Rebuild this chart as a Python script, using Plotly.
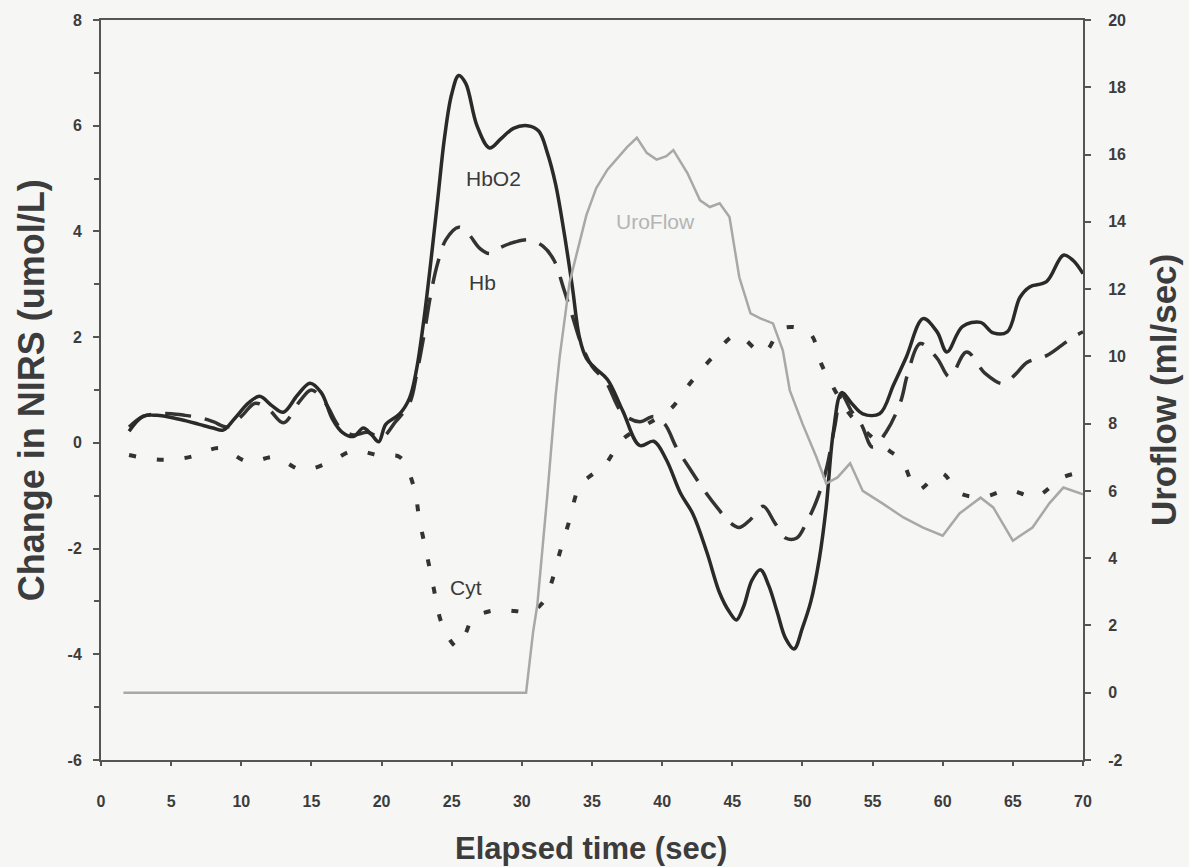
import plotly.graph_objects as go

# Elapsed time (sec) and NIRS changes (umol/L)
hbo2_t = [2, 3, 4, 5, 6, 7, 8, 8.7, 9.5, 10.5, 11.3, 12.2, 13, 14, 14.9, 15.7, 16.5, 17.2,
          18, 18.7, 19.3, 19.8, 20.3, 21.3, 22, 22.5, 23, 23.5, 24, 24.5, 25, 25.5, 26,
          26.8, 27.7, 28.5, 29.4, 30.4, 31.2, 31.8, 32.4, 33, 33.6, 34.1, 34.6, 35.2, 36.1,
          37.2, 38.4, 39.4, 40.3, 41.3, 42.2, 43.2, 44.1, 44.8, 45.3, 45.8, 46.4, 47, 47.6,
          48.2, 48.8, 49.4, 50, 50.6, 51.2, 51.7, 52.2, 52.8, 53.5, 54.3, 55.5, 56.5, 57.4,
          58.6, 59.6, 60.3, 61.4, 62.7, 63.6, 64.6, 65.5, 66.2, 67.4, 68.6, 69.3, 70]
hbo2 = [0.22, 0.5, 0.52, 0.48, 0.42, 0.35, 0.28, 0.24, 0.45, 0.75, 0.88, 0.7, 0.58, 0.9,
        1.13, 0.95, 0.45, 0.2, 0.12, 0.28, 0.15, 0.02, 0.35, 0.55, 0.85, 1.4, 2.3, 3.4,
        4.6, 5.8, 6.6, 6.95, 6.8, 6.0, 5.58, 5.75, 5.95, 6.0, 5.9, 5.5, 4.9, 4.0, 2.95,
        2.0, 1.6, 1.42, 1.2, 0.6, -0.05, 0.03, -0.32, -0.95, -1.35, -2.08, -2.84, -3.2,
        -3.35, -3.1, -2.6, -2.4, -2.7, -3.2, -3.7, -3.9, -3.5, -3.0, -2.2, -1.2, 0.2,
        0.95, 0.75, 0.55, 0.55, 1.1, 1.62, 2.35, 2.1, 1.72, 2.2, 2.28, 2.08, 2.1, 2.75,
        2.95, 3.05, 3.55, 3.45, 3.2]

hb_t = [2, 3, 4, 5, 6, 7, 8, 9, 10, 11, 12, 13, 14.2, 15, 16, 17, 18, 19, 20, 21, 22,
        22.5, 23, 23.5, 24, 24.6, 25.5, 26.2, 27, 27.7, 28.5, 29.5, 30.5, 31.5, 32.3, 33,
        33.6, 34.2, 35, 36, 37.2, 38.4, 39.4, 40.2, 41, 42, 43, 44, 44.8, 45.5, 46.3,
        47.2, 48, 48.8, 49.6, 50.3, 51, 51.7, 52.3, 52.8, 53.5, 54.2, 55, 56, 57, 57.5,
        58.4, 59.6, 60.5, 61.7, 63, 64.3, 65.2, 66, 67.4, 68.5, 69.3, 70]
hb = [0.3, 0.5, 0.55, 0.55, 0.52, 0.48, 0.4, 0.3, 0.5, 0.75, 0.62, 0.38, 0.8, 1.0, 0.75,
      0.3, 0.15, 0.2, 0.1, 0.4, 0.75, 1.3, 2.0, 2.8, 3.4, 3.85, 4.08, 3.95, 3.68, 3.58,
      3.7, 3.8, 3.84, 3.72, 3.45, 2.9, 2.4, 1.9, 1.45, 1.15, 0.55, 0.4, 0.5, 0.35, -0.08,
      -0.5, -0.9, -1.25, -1.5, -1.6, -1.45, -1.2, -1.5, -1.8, -1.8, -1.5, -1.1, -0.5,
      0.3, 0.9, 0.6, 0.35, -0.08, 0.22, 0.78, 1.3, 1.88, 1.6, 1.25, 1.72, 1.32, 1.12,
      1.3, 1.52, 1.65, 1.85, 2.0, 2.1]

cyt_t = [2, 4.2, 6.3, 8.5, 10.5, 12.4, 14.3, 16.2, 18, 20, 21.3, 22.3, 22.7, 23.2, 23.7,
         24.2, 24.8, 25.4, 26, 26.5, 27.5, 28.4, 29.5, 30.6, 31.4, 32, 32.7, 33.4, 34.1,
         35, 35.8, 37.2, 38.9, 40.6, 42, 43.6, 45.3, 47.2, 48.6, 50.5, 51.4, 52.3, 53.2,
         54.2, 55.2, 56.2, 57.1, 58.2, 59.9, 61.2, 62.9, 64.7, 66.6, 68.5, 70]
cyt = [-0.23, -0.32, -0.27, -0.1, -0.36, -0.27, -0.51, -0.38, -0.15, -0.25, -0.27, -0.83,
       -1.46, -2.08, -2.73, -3.35, -3.7, -3.86, -3.6, -3.31, -3.2, -3.16, -3.18, -3.2,
       -3.05, -2.73, -2.08, -1.46, -0.83, -0.6, -0.46, 0.07, 0.35, 0.64, 1.13, 1.62, 2.04,
       1.7, 2.17, 2.08, 1.46, 1.0, 0.6, 0.3, 0.05, -0.15, -0.34, -0.89, -0.57, -0.95,
       -1.02, -0.89, -1.02, -0.66, -0.55]

# Urine flow rate (ml/sec), right-hand axis
uro_t = [1.6, 30.3, 30.8, 31.1, 31.8, 32.4, 32.7, 33.4, 34.6, 35.3, 36.1, 37.5, 38.2,
         38.9, 39.6, 40.3, 40.8, 41.8, 42.7, 43.4, 44.1, 44.8, 45.5, 46.3, 47, 47.9, 48.6,
         49.1, 50, 51, 51.7, 52.5, 53.4, 54.3, 55.7, 57.2, 58.6, 60, 61.2, 62.7, 63.6, 65,
         66.4, 67.6, 68.6, 69.3, 70]
uro = [0, 0, 1.8, 2.6, 5.8, 8.8, 10.0, 12.2, 14.2, 15.0, 15.55, 16.22, 16.5, 16.05, 15.85,
       15.95, 16.13, 15.45, 14.64, 14.44, 14.55, 14.14, 12.35, 11.28, 11.13, 10.98, 10.18,
       8.99, 8.0, 7.0, 6.22, 6.4, 6.82, 6.0, 5.63, 5.21, 4.91, 4.67, 5.33, 5.8, 5.51,
       4.52, 4.91, 5.63, 6.1, 6.0, 5.9]

x_ticks = list(range(0, 71, 5))
left_ticks = list(range(-6, 9, 2))
right_ticks = list(range(-2, 21, 2))
left_labels = [str(v) for v in left_ticks]     # plain hyphen minus signs
right_labels = [str(v) for v in right_ticks]

AX = "#555555"
TXT = "#3c3c3c"
FONT = "Liberation Sans, Arial, sans-serif"
BG = "#f6f6f4"

fig = go.Figure()
fig.add_trace(go.Scatter(x=uro_t, y=uro, yaxis="y2", mode="lines",
                         line=dict(color="#a8a8a8", width=2.5), name="UroFlow"))
fig.add_trace(go.Scatter(x=cyt_t, y=cyt, mode="lines", line_shape="spline",
                         line=dict(color="#333333", width=4, dash="7px,21px"), name="Cyt"))
fig.add_trace(go.Scatter(x=hb_t, y=hb, mode="lines", line_shape="spline",
                         line=dict(color="#333333", width=3.5, dash="26px,14px"), name="Hb"))
fig.add_trace(go.Scatter(x=hbo2_t, y=hbo2, mode="lines", line_shape="spline",
                         line=dict(color="#2a2a2a", width=3.5), name="HbO2"))

tickfont = dict(family=FONT, size=16, color=TXT, weight="bold")
common = dict(showgrid=False, zeroline=False, showline=True, linecolor=AX, linewidth=2,
              tickcolor=AX, tickwidth=2, tickfont=tickfont)

fig.update_layout(
    width=1189, height=867, autosize=False,
    margin=dict(l=101, r=106, t=20, b=107),
    paper_bgcolor=BG, plot_bgcolor=BG,
    showlegend=False,
    xaxis=dict(range=[0, 70], tickvals=x_ticks, ticks="outside", ticklen=4,
               mirror=True, ticklabelstandoff=22, **common),
    yaxis=dict(range=[-6, 8], tickvals=left_ticks, ticktext=left_labels,
               ticks="outside", ticklen=6, ticklabelstandoff=8,
               minor=dict(ticks="outside", ticklen=5, tickvals=[-5, -3, -1, 1, 3, 5, 7],
                          tickcolor=AX, tickwidth=2), **common),
    yaxis2=dict(range=[-2, 20], tickvals=right_ticks, ticktext=right_labels,
                overlaying="y", side="right",
                ticks="outside", ticklen=6, ticklabelstandoff=14, **common),
    yaxis3=dict(range=[-6, 8], tickvals=left_ticks, overlaying="y", side="left",
                ticks="inside", ticklen=6, showticklabels=False, showline=False,
                showgrid=False, zeroline=False, tickcolor=AX, tickwidth=2),
    yaxis4=dict(range=[-2, 20], tickvals=right_ticks, overlaying="y", side="right",
                ticks="inside", ticklen=6, showticklabels=False, showline=False,
                showgrid=False, zeroline=False, tickcolor=AX, tickwidth=2),
)

# Axis titles
fig.add_annotation(text="Elapsed time (sec)", xref="paper", yref="paper",
                   x=0.499, y=-0.119, xanchor="center", yanchor="middle", showarrow=False,
                   font=dict(family=FONT, size=31, color=TXT, weight="bold"))
fig.add_annotation(text="Change in NIRS (umol/L)", xref="paper", yref="paper",
                   x=-0.071, y=0.5, xanchor="center", yanchor="middle", textangle=-90,
                   showarrow=False,
                   font=dict(family=FONT, size=36, color=TXT, weight="bold"))
fig.add_annotation(text="Uroflow (ml/sec)", xref="paper", yref="paper",
                   x=1.0815, y=0.5, xanchor="center", yanchor="middle", textangle=-90,
                   showarrow=False,
                   font=dict(family=FONT, size=35, color=TXT, weight="bold"))

# Curve labels
lab_font = dict(family=FONT, size=21, color="#3a3a3a")
fig.add_annotation(text="HbO2", x=28.0, y=5.01, showarrow=False, font=lab_font)
fig.add_annotation(text="Hb", x=27.2, y=3.04, showarrow=False, font=lab_font)
fig.add_annotation(text="Cyt", x=26.0, y=-2.73, showarrow=False, font=lab_font)
fig.add_annotation(text="UroFlow", x=39.5, y=14.0, yref="y2", showarrow=False,
                   font=dict(family=FONT, size=21, color="#b4b4b4"))

fig.write_html("out.html")
